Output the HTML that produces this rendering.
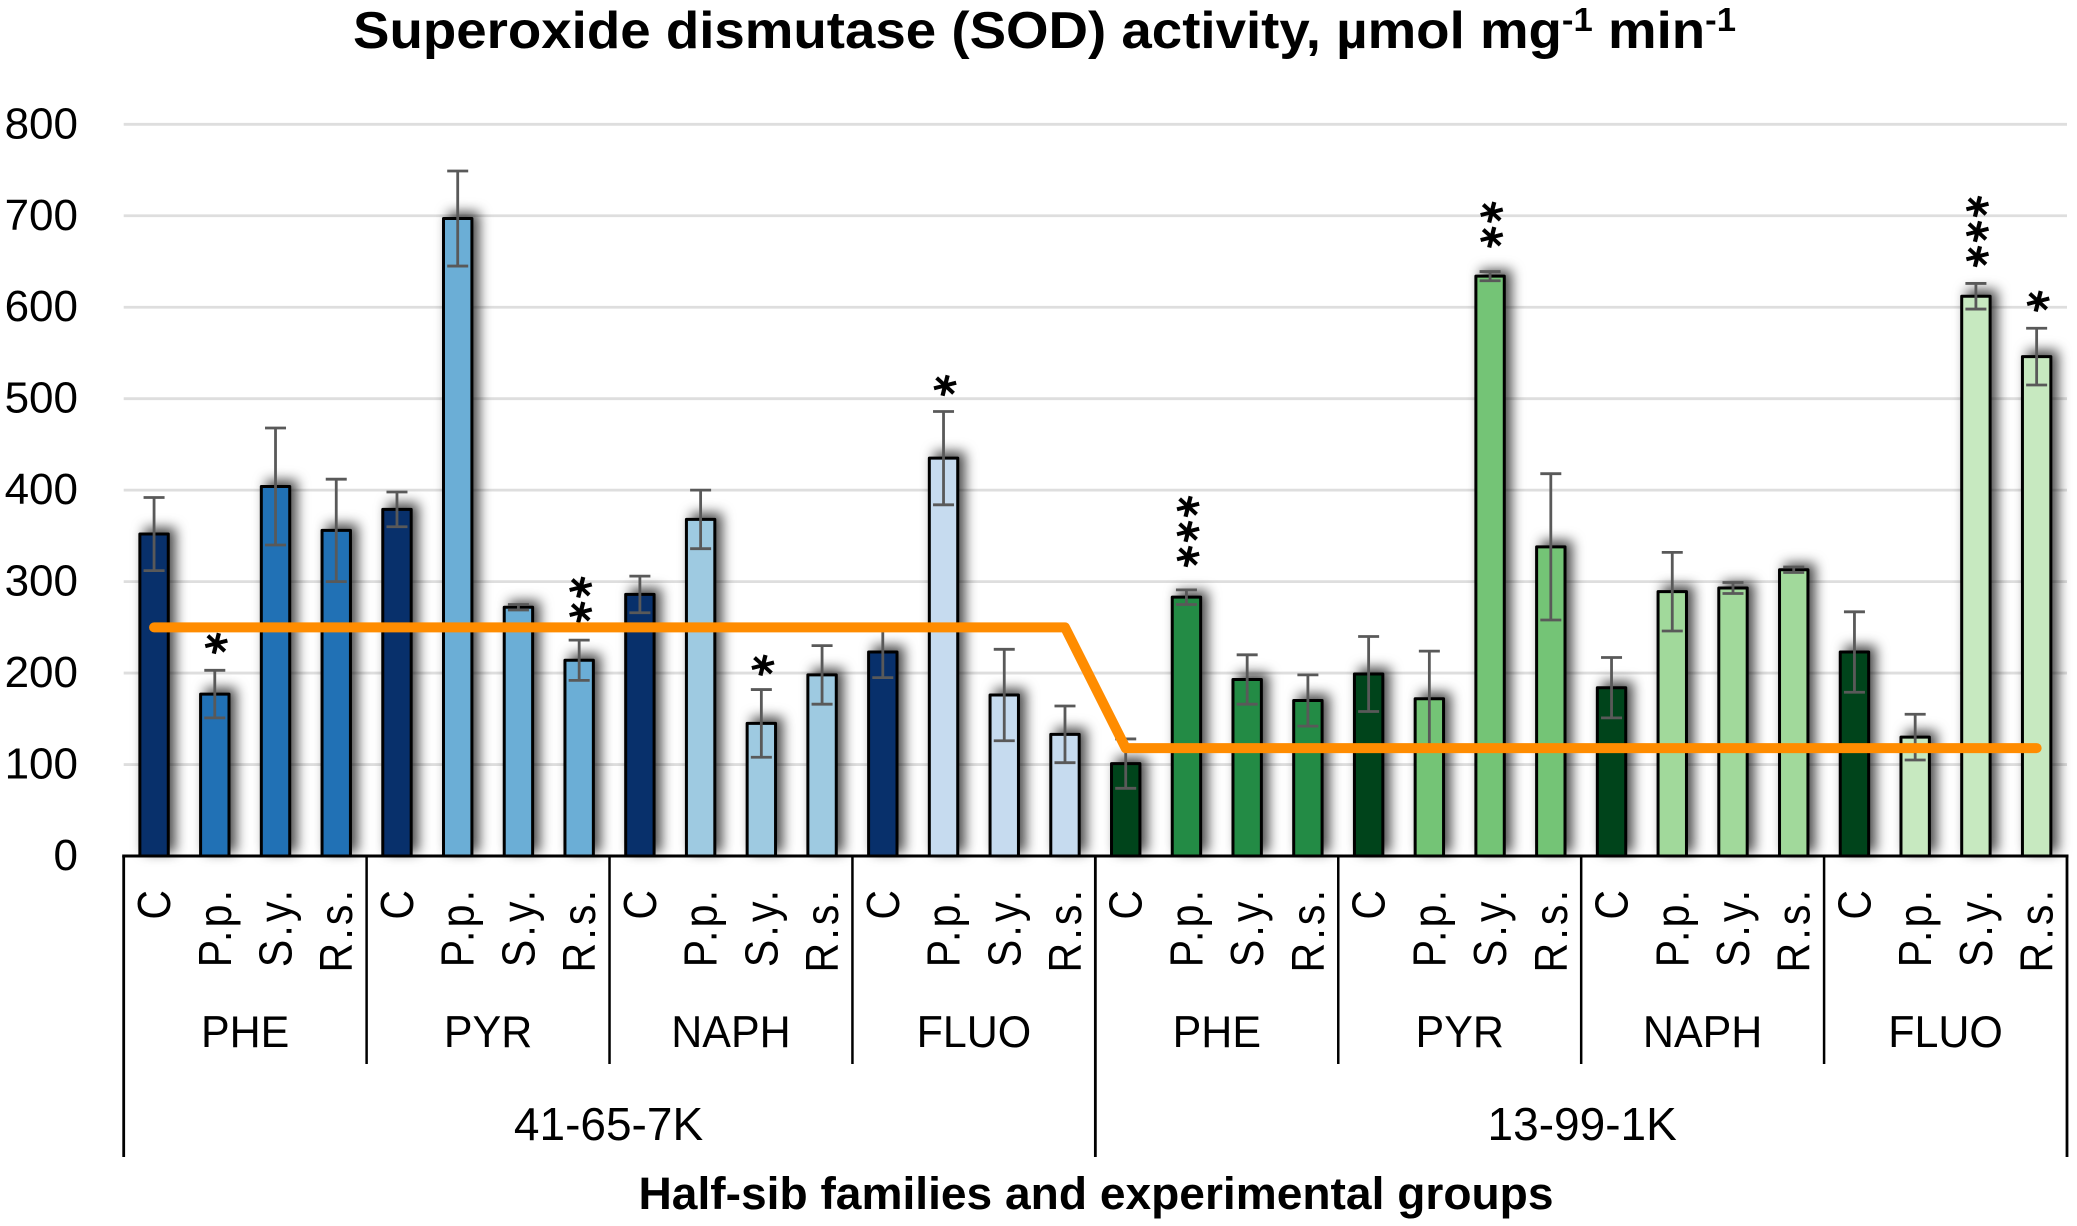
<!DOCTYPE html>
<html lang="en">
<head>
<meta charset="utf-8">
<title>Superoxide dismutase (SOD) activity</title>
<style>
html,body{margin:0;padding:0;background:#fff;}
#chart{display:block;width:2077px;height:1226px;font-family:"Liberation Sans",sans-serif;}
</style>
</head>
<body>
<svg id="chart" xmlns="http://www.w3.org/2000/svg" width="2077" height="1226" viewBox="0 0 2077 1226">
  <defs>
    <filter id="bar-shadow" filterUnits="userSpaceOnUse" x="0" y="0" width="2077" height="1226" color-interpolation-filters="sRGB">
      <feDropShadow dx="6" dy="-5" stdDeviation="6" flood-color="#000" flood-opacity="0.7"/>
    </filter>
  </defs>
  <text x="353" y="48" font-size="52" font-weight="bold" fill="#000" textLength="1383" lengthAdjust="spacingAndGlyphs">Superoxide dismutase (SOD) activity, µmol mg<tspan font-size="33" dy="-17">-1</tspan><tspan dy="17"> min</tspan><tspan font-size="33" dy="-17">-1</tspan></text>
  <g id="grid"></g>
  <g id="y-ticks"></g>
  <g id="bars" filter="url(#bar-shadow)"></g>
  <g id="errors"></g>
  <g id="stars"></g>
  <g id="lines"></g>
  <g id="x-axis"></g>
  <text x="1096" y="1209" font-size="45" font-weight="bold" text-anchor="middle" fill="#000" textLength="915" lengthAdjust="spacingAndGlyphs">Half-sib families and experimental groups</text>
</svg>
<script>
// ---- chart data ----
const families = ["41-65-7K", "13-99-1K"];
const pahGroups = ["PHE", "PYR", "NAPH", "FLUO"];
const treatments = ["C", "P.p.", "S.y.", "R.s."];
const yTicks = [0, 100, 200, 300, 400, 500, 600, 700, 800];
const sodValues = [
  352, 177, 404, 356,  379, 697, 272, 214,  286, 368, 145, 198,  223, 435, 176, 133,
  101, 283, 193, 170,  199, 172, 634, 338,  184, 289, 293, 313,  223, 130, 612, 546
];
const sodErrors = [
  40, 26, 64, 56,  19, 52, 3, 22,  20, 32, 37, 32,  28, 51, 50, 31,
  27, 8, 27, 28,  41, 52, 5, 80,  33, 43, 6, 3,  44, 25, 14, 31
];
const starCounts = [
  0, 1, 0, 0,  0, 0, 0, 2,  0, 0, 1, 0,  0, 1, 0, 0,
  0, 3, 0, 0,  0, 0, 2, 0,  0, 0, 0, 0,  0, 0, 3, 1
];
const starLevels = [
  0, 232, 0, 0,  0, 0, 0, 266,  0, 0, 208, 0,  0, 514, 0, 0,
  0, 327, 0, 0,  0, 0, 676, 0,  0, 0, 0, 0,  0, 0, 655, 606
];
const familyMeans = [250, 118];
const controlColors = ["#08306b", "#00441b"];
const treatmentColors = [
  ["#2171b5", "#6baed6", "#9ecae1", "#c6dbef"],
  ["#238b45", "#74c476", "#a1d99b", "#c7e9c0"]
];

// ---- axis functions ----
const plotLeft = 123.7, plotRight = 2067, y0 = 856, yPerUnit = 0.9146;
const barCount = sodValues.length;
const step = (plotRight - plotLeft) / barCount;
const xBar = i => plotLeft + step * (i + 0.5);
const xEdge = i => plotLeft + step * i;
const yVal = v => y0 - v * yPerUnit;
const NS = "http://www.w3.org/2000/svg";
function mk(parent, tag, attrs, text) {
  const e = document.createElementNS(NS, tag);
  for (const k in attrs) e.setAttribute(k, attrs[k]);
  if (text !== undefined) e.textContent = text;
  parent.appendChild(e);
  return e;
}
const $ = id => document.getElementById(id);
const perFamily = pahGroups.length * treatments.length;

// gridlines + tick labels
yTicks.forEach(t => {
  if (t > 0) {
    const g = mk($("grid"), "line", {x1: plotLeft, x2: plotRight, y1: yVal(t), y2: yVal(t), stroke: "#dedede", "stroke-width": 2.8});
    
    
  }
  const l = mk($("y-ticks"), "text", {x: 78, y: yVal(t) + 14, "font-size": 44, "text-anchor": "end", fill: "#000"}, String(t));
  
  
});

// bars, error bars
sodValues.forEach((v, i) => {
  const fam = Math.floor(i / perFamily);
  const grp = Math.floor(i / treatments.length) % pahGroups.length;
  const isControl = i % treatments.length === 0;
  const fill = isControl ? controlColors[fam] : treatmentColors[fam][grp];
  const cx = xBar(i);
  const r = mk($("bars"), "rect", {x: cx - 14.2, y: yVal(v), width: 28.4, height: y0 - yVal(v), fill: fill, stroke: "#000", "stroke-width": 3, "stroke-linejoin": "round"});
  
  

  const err = sodErrors[i];
  const top = yVal(v + err), bot = yVal(v - err);
  const eb = mk($("errors"), "path", {d: `M${cx - 10.5} ${top}H${cx + 10.5}M${cx} ${top}V${bot}M${cx - 10.5} ${bot}H${cx + 10.5}`, stroke: "#595959", "stroke-width": 2.8, fill: "none"});
  
  

  for (let s = 0; s < starCounts[i]; s++) {
    const sy = yVal(starLevels[i]) - s * 25;
    const st = mk($("stars"), "text", {x: cx + 1.5, y: sy + 22, "font-size": 44, "font-weight": "bold", "text-anchor": "middle", fill: "#000", stroke: "#000", "stroke-width": 0.6, transform: `rotate(14 ${cx + 1.5} ${sy})`}, "*");
    st.style.fontFamily = '"DejaVu Sans",sans-serif';
    
    
  }
});

// family mean reference line
const lineAt = [];
familyMeans.forEach((m, f) => {
  lineAt.push(`${xBar(f * perFamily)} ${yVal(m)}`);
  lineAt.push(`${xBar((f + 1) * perFamily - 1)} ${yVal(m)}`);
});
const meanLine = mk($("lines"), "path", {d: "M" + lineAt.join("L"), fill: "none", stroke: "#ff8c00", "stroke-width": 10, "stroke-linecap": "round", "stroke-linejoin": "round"});



// x axis: multi-level
const ax = mk($("x-axis"), "line", {x1: plotLeft - 1.5, x2: plotRight + 1.5, y1: y0, y2: y0, stroke: "#000", "stroke-width": 3});



const groupCount = families.length * pahGroups.length;
for (let g = 0; g <= groupCount; g++) {
  const x = xEdge(g * treatments.length);
  const isFamilyEdge = g % pahGroups.length === 0;
  const tk = mk($("x-axis"), "line", {x1: x, x2: x, y1: y0, y2: isFamilyEdge ? 1157 : 1064, stroke: "#000", "stroke-width": isFamilyEdge ? 2.8 : 2.5});
  
  
}
sodValues.forEach((v, i) => {
  const cx = xBar(i);
  const t = mk($("x-axis"), "text", {"font-size": 41, "letter-spacing": 3.2, "text-anchor": "end", fill: "#000", transform: `translate(${cx + 16} 886.8) rotate(-90) scale(1 1.12)`}, treatments[i % treatments.length]);
  
  
});
for (let g = 0; g < groupCount; g++) {
  const cx = (xEdge(g * treatments.length) + xEdge((g + 1) * treatments.length)) / 2;
  const t = mk($("x-axis"), "text", {"font-size": 43, "text-anchor": "middle", fill: "#000", transform: `translate(${cx} 1047) scale(1 1.04)`}, pahGroups[g % pahGroups.length]);
  
  
}
families.forEach((name, f) => {
  const cx = (xEdge(f * perFamily) + xEdge((f + 1) * perFamily)) / 2;
  const t = mk($("x-axis"), "text", {x: cx + (f ? 1 : -1), y: 1140, "font-size": 46, "text-anchor": "middle", fill: "#000"}, name);
  
  
});
</script>
</body>
</html>
